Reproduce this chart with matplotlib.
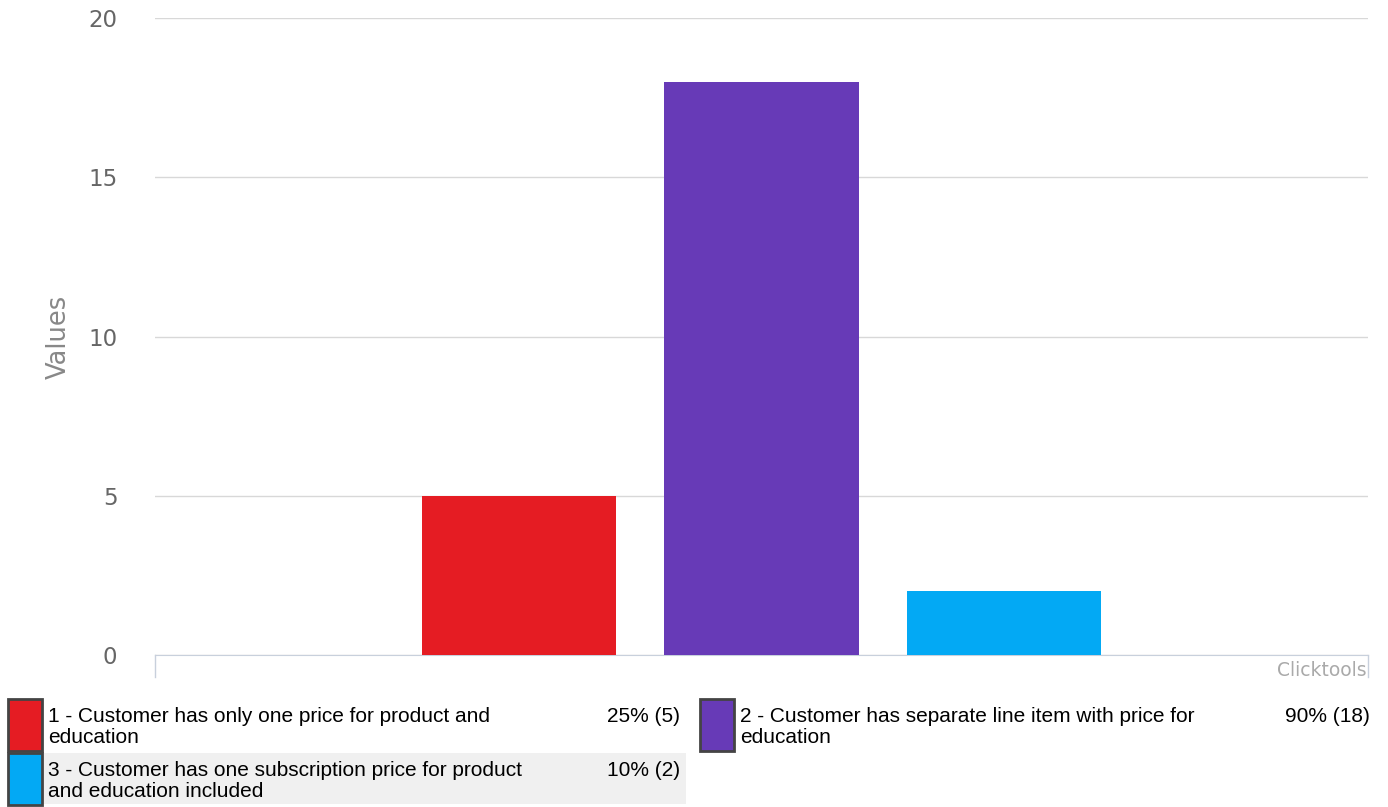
import matplotlib.pyplot as plt
from matplotlib.patches import Rectangle

# ── Data ──────────────────────────────────────────────────────────────────────
positions = [1, 2, 3]
values = [5, 18, 2]
colors = ["#e51c23", "#673ab7", "#03a9f4"]
labels = [
    "1 - Customer has only one price for product and\neducation",
    "2 - Customer has separate line item with price for\neducation",
    "3 - Customer has one subscription price for product\nand education included",
]
pcts = ["25% (5)", "90% (18)", "10% (2)"]
yticks = [0, 5, 10, 15, 20]

W, H = 1388, 807
fig = plt.figure(figsize=(W / 100, H / 100), dpi=100)
ax = fig.add_axes([155 / W, 1 - 655 / H, 1213 / W, 637 / H])

ax.bar(positions, values, width=0.8, color=colors, zorder=3)
ax.set_xlim(-0.5, 4.5)
ax.set_ylim(0, 20)
ax.set_yticks(yticks)
ax.set_xticks([])
ax.grid(axis="y", color="#d8d8d8", lw=1, zorder=0)
for s in ["top", "right", "left"]:
    ax.spines[s].set_visible(False)
ax.spines["bottom"].set_color("#c8d0dc")
ax.tick_params(axis="y", length=0, pad=27, labelsize=16.5, labelcolor="#666666")
ax.set_ylabel("Values", fontsize=18.5, color="#888888", labelpad=12)

# small end ticks on the baseline
ax.plot([-0.5, -0.5], [0, -0.7], color="#c8d0dc", lw=1, clip_on=False)
ax.plot([4.5, 4.5], [0, -0.7], color="#c8d0dc", lw=1, clip_on=False)
ax.text(4.495, -0.5, "Clicktools", ha="right", va="center", fontsize=13.5,
        color="#aaaaaa", family="Liberation Sans Narrow")

# ── Legend ────────────────────────────────────────────────────────────────────
def px(x, y):
    return x / W, 1 - y / H

fig.patches.append(Rectangle(px(43, 804), 643 / W, 51 / H, transform=fig.transFigure,
                             facecolor="#f0f0f0", edgecolor="none"))
cells = [(8, 699, 48, 680), (700, 699, 740, 1370), (8, 753, 48, 680)]
for (bx, by, tx, rx), c, lab, p in zip(cells, colors, labels, pcts):
    fig.patches.append(Rectangle(px(bx, by + 52), 34 / W, 52 / H, transform=fig.transFigure,
                                 facecolor=c, edgecolor="#444444", lw=2))
    fig.text(*px(tx, by + 8), lab, ha="left", va="top", fontsize=15,
             family="Liberation Sans", linespacing=1.12)
    fig.text(*px(rx, by + 8), p, ha="right", va="top", fontsize=15,
             family="Liberation Sans")

fig.savefig("out.png", dpi=100)
